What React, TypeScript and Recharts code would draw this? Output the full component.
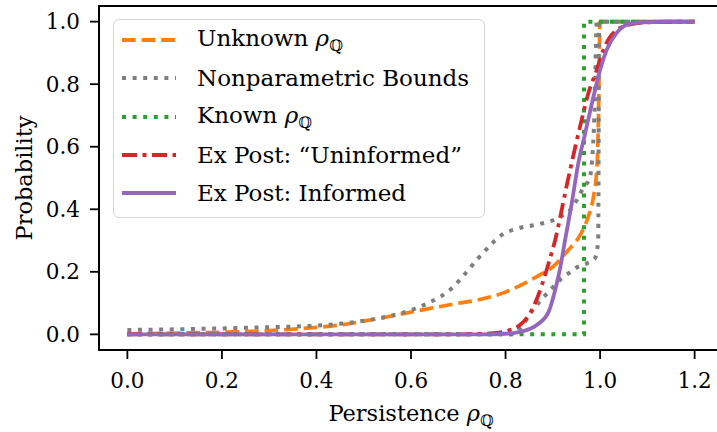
import React from 'react';
import { LineChart, Line, XAxis, YAxis, Legend, ReferenceArea } from 'recharts';

// values
const unknownX = [0, 0.1, 0.2, 0.3, 0.38, 0.45, 0.51, 0.57, 0.63, 0.69, 0.75, 0.8, 0.84, 0.87, 0.9, 0.93, 0.958, 0.975, 0.986, 0.993, 0.996, 0.998, 1.0, 1.2];
const unknownY = [0.002, 0.004, 0.007, 0.012, 0.02, 0.03, 0.045, 0.062, 0.08, 0.097, 0.113, 0.135, 0.163, 0.188, 0.216, 0.265, 0.318, 0.377, 0.44, 0.526, 0.65, 0.85, 1.0, 1.0];

const boundUpperX = [0, 0.1, 0.2, 0.3, 0.386, 0.474, 0.541, 0.605, 0.647, 0.684, 0.714, 0.742, 0.771, 0.79, 0.827, 0.873, 0.915, 0.937, 0.951, 0.965, 0.978, 0.988, 0.993, 1.2];
const boundUpperY = [0.014, 0.016, 0.019, 0.023, 0.027, 0.038, 0.054, 0.08, 0.108, 0.144, 0.193, 0.243, 0.29, 0.316, 0.339, 0.353, 0.375, 0.398, 0.43, 0.47, 0.5, 0.7, 1.0, 1.0];

const boundLowerX = [0, 0.81, 0.831, 0.855, 0.869, 0.898, 0.915, 0.933, 0.952, 0.972, 0.989, 0.996, 0.998, 1.2];
const boundLowerY = [0, 0, 0.019, 0.072, 0.099, 0.147, 0.174, 0.195, 0.215, 0.227, 0.243, 0.3, 1.0, 1.0];

const knownX = [0, 0.966, 0.966, 1.2];
const knownY = [0, 0, 1, 1];

const uninformedX = [0, 0.7, 0.767, 0.809, 0.838, 0.859, 0.877, 0.891, 0.905, 0.929, 0.943, 0.961, 0.975, 0.993, 1.007, 1.032, 1.07, 1.12, 1.2];
const uninformedY = [0, 0, 0.003, 0.014, 0.04, 0.088, 0.158, 0.227, 0.302, 0.473, 0.569, 0.686, 0.77, 0.846, 0.91, 0.969, 0.993, 0.999, 1.0];

const informedX = [0, 0.75, 0.8, 0.831, 0.866, 0.891, 0.905, 0.916, 0.926, 0.94, 0.954, 0.968, 0.986, 1.0, 1.014, 1.035, 1.064, 1.1, 1.14, 1.2];
const informedY = [0, 0, 0.002, 0.008, 0.03, 0.072, 0.142, 0.216, 0.302, 0.419, 0.548, 0.64, 0.76, 0.846, 0.91, 0.964, 0.994, 0.998, 1.0, 1.0];

const xTicks = [0, 0.2, 0.4, 0.6, 0.8, 1.0, 1.2];
const yTicks = [0, 0.2, 0.4, 0.6, 0.8, 1.0];

const zip = (xs: number[], ys: number[]) => xs.map((x, i) => ({ x, y: ys[i] }));

const FONT = 'DejaVu Serif';
const DASHED = '13.7 5.9';
const DOTTED = '4 6.6';
const DASHDOT = '15 5.5 4 5.5';

const Rho = () => (
  <span>
    <i>ρ</i>
    <sub style={{ fontSize: '0.68em', verticalAlign: '-0.3em' }}>ℚ</sub>
  </span>
);

const legendRows = [
  { label: <>Unknown <Rho /></>, color: '#ff7f0e', dash: DASHED },
  { label: <>Nonparametric Bounds</>, color: '#7f7f7f', dash: DOTTED },
  { label: <>Known <Rho /></>, color: '#2ca02c', dash: DOTTED },
  { label: <>Ex Post: “Uninformed”</>, color: '#d62728', dash: DASHDOT },
  { label: <>Ex Post: Informed</>, color: '#9467bd', dash: undefined },
];

const LegendBox = () => (
  <div
    style={{
      boxSizing: 'border-box',
      width: 372,
      height: 199,
      border: '1.7px solid #d4d4d4',
      borderRadius: 6,
      background: 'rgba(255,255,255,0.8)',
      padding: '1px 0 0 8px',
      fontFamily: FONT,
      fontSize: 23,
      color: '#000',
    }}
  >
    {legendRows.map((r, i) => (
      <div key={i} style={{ display: 'flex', alignItems: 'center', height: 38.3 }}>
        <svg width={54} height={10} style={{ flex: 'none' }}>
          <line x1={0} y1={5} x2={54} y2={5} stroke={r.color} strokeWidth={3.8} strokeDasharray={r.dash} />
        </svg>
        <span style={{ marginLeft: 21, whiteSpace: 'nowrap', lineHeight: 1 }}>{r.label}</span>
      </div>
    ))}
  </div>
);

const XLabel = (props: any) => {
  const vb = props.viewBox || { x: 99, y: 350, width: 624, height: 82 };
  const cx = vb.x + vb.width / 2;
  return (
    <text x={cx} y={420.5} textAnchor="middle" fontFamily={FONT} fontSize={22.5} fill="#000">
      <tspan>Persistence </tspan>
      <tspan fontStyle="italic">ρ</tspan>
      <tspan fontSize={15.5} dy={5}>ℚ</tspan>
    </text>
  );
};

const YLabel = (props: any) => {
  const vb = props.viewBox || { x: 0, y: 6, width: 99, height: 344 };
  const cy = vb.y + vb.height / 2;
  return (
    <text x={31.5} y={cy} transform={`rotate(-90, 31.5, ${cy})`} textAnchor="middle" fontFamily={FONT} fontSize={22.5} fill="#000">
      Probability
    </text>
  );
};

const tickStyle = { fill: '#000', fontSize: 21.5, fontFamily: FONT };

export default function App() {
  return (
    <div style={{ position: 'fixed', left: 0, top: 0, width: 717, height: 432, overflow: 'hidden', background: '#fff', fontFamily: FONT }}>
      <LineChart width={735} height={432} margin={{ top: 6, right: 12, left: 0, bottom: 0 }} style={{ fontFamily: FONT }}>
        <XAxis
          type="number"
          dataKey="x"
          domain={[-0.06, 1.26]}
          ticks={xTicks}
          interval={0}
          allowDataOverflow
          tickFormatter={(v: number) => v.toFixed(1)}
          tick={tickStyle}
          tickSize={9}
          tickMargin={14}
          height={82}
          axisLine={{ stroke: '#000', strokeWidth: 1.8 }}
          tickLine={{ stroke: '#000', strokeWidth: 1.8 }}
          label={<XLabel />}
        />
        <YAxis
          type="number"
          domain={[-0.05, 1.05]}
          ticks={yTicks}
          interval={0}
          allowDataOverflow
          tickFormatter={(v: number) => v.toFixed(1)}
          tick={tickStyle}
          tickSize={9}
          tickMargin={10}
          width={99}
          axisLine={{ stroke: '#000', strokeWidth: 1.8 }}
          tickLine={{ stroke: '#000', strokeWidth: 1.8 }}
          label={<YLabel />}
        />
        <ReferenceArea x1={-0.06} x2={1.26} y1={-0.05} y2={1.05} fill="none" stroke="#000" strokeWidth={1.8} />
        <Line type="monotone" data={zip(unknownX, unknownY)} dataKey="y" stroke="#ff7f0e" strokeWidth={3.7} strokeDasharray={DASHED} dot={false} activeDot={false} isAnimationActive={false} />
        <Line type="monotone" data={zip(boundUpperX, boundUpperY)} dataKey="y" stroke="#7f7f7f" strokeWidth={4} strokeDasharray={DOTTED} dot={false} activeDot={false} isAnimationActive={false} />
        <Line type="monotone" data={zip(boundLowerX, boundLowerY)} dataKey="y" stroke="#7f7f7f" strokeWidth={4} strokeDasharray={DOTTED} dot={false} activeDot={false} isAnimationActive={false} />
        <Line type="linear" data={zip(knownX, knownY)} dataKey="y" stroke="#2ca02c" strokeWidth={4} strokeDasharray={DOTTED} dot={false} activeDot={false} isAnimationActive={false} />
        <Line type="monotone" data={zip(uninformedX, uninformedY)} dataKey="y" stroke="#d62728" strokeWidth={3.8} strokeDasharray={DASHDOT} dot={false} activeDot={false} isAnimationActive={false} />
        <Line type="monotone" data={zip(informedX, informedY)} dataKey="y" stroke="#9467bd" strokeWidth={3.8} dot={false} activeDot={false} isAnimationActive={false} />
        <Legend
          layout="horizontal"
          verticalAlign="middle"
          align="center"
          wrapperStyle={{ left: 113, top: 19, width: 372, height: 199 }}
          content={() => <LegendBox />}
        />
      </LineChart>
    </div>
  );
}
